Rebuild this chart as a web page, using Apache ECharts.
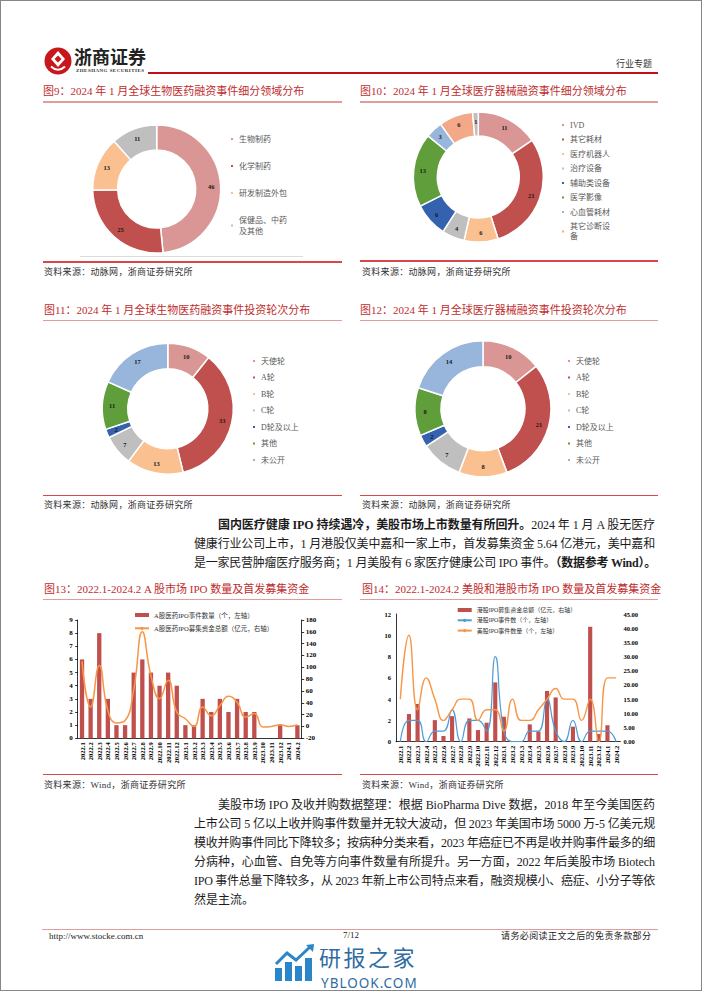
<!DOCTYPE html>
<html><head><meta charset="utf-8">
<script src="https://cdn.jsdelivr.net/npm/echarts@6/dist/echarts.min.js"></script>
<style>
html,body{margin:0;padding:0;background:#fff;}
#page{position:relative;width:702px;height:991px;overflow:hidden;background:#fff;font-family:"Liberation Serif","Noto Sans CJK SC",serif;}
#frame{position:absolute;left:0;top:0;width:702px;height:991px;box-sizing:border-box;border:1px solid #868686;pointer-events:none;z-index:20;}
.abs{position:absolute;white-space:nowrap;}
.title{font-size:11px;color:#BE2D2D;height:14px;line-height:14px;}
.uline{position:absolute;height:1.5px;background:#E39C9C;}
.rline{position:absolute;height:1.5px;background:#D8484A;}
.src{font-size:9px;color:#333;height:12px;line-height:12px;letter-spacing:0.3px;}
.pl{position:absolute;white-space:nowrap;font-size:12px;color:#1c1c1c;height:19px;line-height:19px;display:inline-block;}
.chart{position:absolute;}
</style></head>
<body>
<div id="page">
<div id="frame"></div>

<!-- header -->
<svg class="abs" style="left:44px;top:47px" width="28" height="28" viewBox="0 0 28 28">
  <circle cx="14" cy="14" r="13.5" fill="#C8161D"/>
  <path d="M14 4 L21 12 L14 20 L7 12 Z" fill="#fff"/>
  <path d="M14 8.5 L17.5 12 L14 15.5 L10.5 12 Z" fill="#C8161D"/>
  <path d="M7 19.5 Q14 26 21 19.5" stroke="#fff" stroke-width="2" fill="none"/>
</svg>
<div class="abs" style="left:74px;top:46px;font-size:18px;font-weight:bold;color:#222;line-height:20px;font-family:'Noto Sans CJK SC';">浙商证券</div>
<div class="abs" style="left:76px;top:68px;font-size:5px;font-weight:bold;color:#333;line-height:6px;letter-spacing:0.45px;">ZHESHANG SECURITIES</div>
<div class="abs" style="left:148px;top:72px;width:510px;height:1.6px;background:#C0101A;"></div>
<div class="abs" style="left:616px;top:58px;font-size:9px;color:#333;line-height:12px;">行业专题</div>

<!-- row 1 titles -->
<div class="abs title" style="left:43px;top:84px;">图9：2024 年 1 月全球生物医药融资事件细分领域分布</div>
<div class="abs title" style="left:360px;top:84px;">图10：2024 年 1 月全球医疗器械融资事件细分领域分布</div>
<div class="uline" style="left:43px;top:101px;width:299px;"></div>
<div class="uline" style="left:360px;top:101px;width:298px;"></div>

<div id="c9" class="chart" style="left:43px;top:104px;width:300px;height:152px;"></div>
<div id="c10" class="chart" style="left:358px;top:104px;width:300px;height:200px;"></div>
<div class="abs" style="left:80px;top:256px;width:223px;height:1px;background:#DCDCDC;"></div>

<div class="rline" style="left:43px;top:261px;width:299px;"></div>
<div class="rline" style="left:360px;top:260px;width:298px;"></div>
<div class="abs src" style="left:44px;top:266px;">资料来源：动脉网，浙商证券研究所</div>
<div class="abs src" style="left:362px;top:266px;">资料来源：动脉网，浙商证券研究所</div>

<!-- row 2 -->
<div class="abs title" style="left:44px;top:303px;">图11：2024 年 1 月全球生物医药融资事件投资轮次分布</div>
<div class="abs title" style="left:360px;top:303px;">图12：2024 年 1 月全球医疗器械融资事件投资轮次分布</div>
<div class="uline" style="left:43px;top:319.5px;width:299px;"></div>
<div class="uline" style="left:360px;top:319.5px;width:298px;"></div>

<div id="c11" class="chart" style="left:43px;top:325px;width:300px;height:165px;"></div>
<div id="c12" class="chart" style="left:358px;top:325px;width:300px;height:165px;"></div>

<div class="rline" style="left:43px;top:494.5px;width:299px;"></div>
<div class="rline" style="left:360px;top:494.5px;width:298px;"></div>
<div class="abs src" style="left:44px;top:499px;">资料来源：动脉网，浙商证券研究所</div>
<div class="abs src" style="left:362px;top:499px;">资料来源：动脉网，浙商证券研究所</div>

<!-- paragraph 1 -->
<div class="pl jl" data-l="218" data-r="655" style="left:218px;top:516px;"><b>国内医疗健康 IPO 持续遇冷，美股市场上市数量有所回升。</b>2024 年 1 月 A 股无医疗</div>
<div class="pl jl" data-l="194" data-r="655" style="left:194px;top:535px;">健康行业公司上市，1 月港股仅美中嘉和一家上市，首发募集资金 5.64 亿港元，美中嘉和</div>
<div class="pl jl" data-l="194" data-r="656" style="left:194px;top:554px;">是一家民营肿瘤医疗服务商；1 月美股有 6 家医疗健康公司 IPO 事件。<b>（数据参考 Wind）。</b></div>

<!-- row 3 -->
<div class="abs title" style="left:44px;top:582px;">图13：2022.1-2024.2 A 股市场 IPO 数量及首发募集资金</div>
<div class="abs title" style="left:362px;top:582px;">图14：2022.1-2024.2 美股和港股市场 IPO 数量及首发募集资金</div>
<div class="uline" style="left:43px;top:598.5px;width:299px;"></div>
<div class="uline" style="left:360px;top:598.5px;width:298px;"></div>

<div id="c13" class="chart" style="left:43px;top:601px;width:300px;height:172px;"></div>
<div id="c14" class="chart" style="left:358px;top:601px;width:300px;height:172px;"></div>

<div class="rline" style="left:43px;top:773.5px;width:299px;"></div>
<div class="rline" style="left:360px;top:773.5px;width:298px;"></div>
<div class="abs src" style="left:44px;top:779px;">资料来源：Wind，浙商证券研究所</div>
<div class="abs src" style="left:362px;top:779px;">资料来源：Wind，浙商证券研究所</div>

<!-- paragraph 2 -->
<div class="pl jl" data-l="218" data-r="655" style="left:218px;top:795.5px;">美股市场 IPO 及收并购数据整理：根据 BioPharma Dive 数据，2018 年至今美国医药</div>
<div class="pl jl" data-l="194" data-r="655" style="left:194px;top:814.5px;">上市公司 5 亿以上收并购事件数量并无较大波动，但 2023 年美国市场 5000 万-5 亿美元规</div>
<div class="pl jl" data-l="194" data-r="655" style="left:194px;top:833.5px;">模收并购事件同比下降较多；按病种分类来看，2023 年癌症已不再是收并购事件最多的细</div>
<div class="pl jl" data-l="194" data-r="655" style="left:194px;top:852.5px;">分病种，心血管、自免等方向事件数量有所提升。另一方面，2022 年后美股市场 Biotech</div>
<div class="pl jl" data-l="194" data-r="655" style="left:194px;top:871.5px;">IPO 事件总量下降较多，从 2023 年新上市公司特点来看，融资规模小、癌症、小分子等依</div>
<div class="pl" style="left:194px;top:890.5px;">然是主流。</div>

<!-- footer -->
<div class="abs" style="left:42px;top:929px;width:616px;height:1px;background:#E39C9C;"></div>
<div class="abs" style="left:49px;top:931px;font-size:9px;color:#222;line-height:10px;">http://www.stocke.com.cn</div>
<div class="abs" style="left:343px;top:929.5px;font-size:9px;color:#222;line-height:10px;">7/12</div>
<div class="abs" style="left:501px;top:931px;font-size:9px;color:#222;line-height:10px;letter-spacing:0.4px;">请务必阅读正文之后的免责条款部分</div>

<!-- watermark -->
<svg class="abs" style="left:274px;top:944px" width="42" height="38" viewBox="0 0 42 38">
  <rect x="1" y="24" width="7" height="13" fill="#2A86C8"/>
  <rect x="11" y="18" width="7" height="19" fill="#2A86C8"/>
  <rect x="21" y="22" width="7" height="15" fill="#2A86C8"/>
  <rect x="31" y="14" width="7" height="23" fill="#2A86C8"/>
  <polyline points="2,20 13,9 22,16 36,3" fill="none" stroke="#2A86C8" stroke-width="3"/>
  <polygon points="32,1 40,0 39,8" fill="#2A86C8"/>
</svg>
<div class="abs" style="left:319px;top:945px;color:#2F6CA3;white-space:normal;">
  <div style="font-size:22px;line-height:22px;font-family:'Noto Sans CJK SC';letter-spacing:2.5px;white-space:nowrap;">研报之家<br><span style="display:inline-block;margin-top:3px;font-size:13.5px;line-height:12px;font-family:'Noto Sans';letter-spacing:1px;padding-left:2px;">YBLOOK.COM</span></div>
</div>
</div>

<script>
// ---------------- data ----------------
const fig9Names = ['生物制药', '化学制药', '研发制造外包', '保健品、中药及其他'];
const fig9Values = [46, 25, 13, 11];

const fig10Names = ['IVD', '其它耗材', '医疗机器人', '治疗设备', '辅助类设备', '医学影像', '心血管耗材', '其它诊断设备', '其他'];
const fig10Values = [11, 21, 6, 4, 6, 13, 3, 6, 1];

const roundNames = ['天使轮', 'A轮', 'B轮', 'C轮', 'D轮及以上', '其他', '未公开'];
const fig11Values = [10, 33, 13, 7, 2, 11, 17];
const fig12Values = [10, 21, 8, 7, 2, 8, 14];

const months = ['2022.1','2022.2','2022.3','2022.4','2022.5','2022.6','2022.7','2022.8','2022.9','2022.10','2022.11','2022.12',
  '2023.1','2023.2','2023.3','2023.4','2023.5','2023.6','2023.7','2023.8','2023.9','2023.10','2023.11','2023.12','2024.1','2024.2'];

const aShareIpoCount = [6, 3, 8, 3, 1, 1, 5, 6, 5, 4, 5, 4, 1, 1, 3, 2, 3, 2, 3, 2, 2, 0, 0, 1, 0, 1];
const aShareIpoFunds = [110, 33, 103, 27, 6, 10, 62, 160, 86, 47, 78, 24, 13, 0, 33, 18, 35, 51, 41, 16, 22, -1, 0, 3, 0, 3];

const hkIpoFunds = [0, 9.75, 13.3, 0, 7.6, 2.0, 9.0, 0, 8.2, 4.1, 6.7, 20.9, 8.8, 0, 0, 6.1, 3.6, 17.9, 15.6, 0, 5.3, 0, 40.5, 2.7, 5.8, 0];
const hkIpoCount = [0, 2, 2, 0, 1, 1, 3, 0, 2, 2, 1, 8, 1, 0, 0, 1, 1, 4, 1, 0, 2, 0, 1, 1, 1, 0];
const usIpoCount = [4, 10, 3, 6, 4, 2, 3, 4, 4, 2, 3, 3, 1, 4, 2, 2, 3, 4, 5, 4, 4, 2, 4, 0, 6, 6];

// ---------------- styles ----------------
const C = {
  pink: '#D99694', red: '#C0504D', peach: '#FAC090', gray: '#BFBFBF',
  navy: '#3462AE', green: '#5F9E3B', lblue: '#98B6DB', salmon: '#F3A888',
  orange: '#F79646', blue: '#4F9BD6'
};
const fig9Colors = [C.pink, C.red, C.peach, C.gray];
const fig10Colors = [C.pink, C.red, C.peach, C.gray, C.navy, C.green, C.lblue, C.salmon, C.gray];
const roundColors = [C.pink, C.red, C.peach, C.gray, C.navy, C.green, C.lblue];
const FONT = "'Liberation Serif','Noto Sans CJK SC',serif";

// justify paragraph lines
document.querySelectorAll('.jl').forEach(el => {
  const target = parseFloat(el.dataset.r) - parseFloat(el.dataset.l);
  el.style.letterSpacing = '0px';
  const w = el.getBoundingClientRect().width;
  const n = el.textContent.length;
  el.style.letterSpacing = ((target - w) / n) + 'px';
});

function donut(id, names, values, colors, cfg) {
  const chart = echarts.init(document.getElementById(id), null, {renderer: 'svg'});
  chart.setOption({
    animation: false,
    legend: {
      orient: 'vertical', left: cfg.legLeft, top: cfg.legTop, itemGap: cfg.gap, padding: 0,
      itemWidth: 4, itemHeight: 4, icon: 'rect', selectedMode: false,
      data: names.slice(0, cfg.legN),
      textStyle: {fontSize: 8, color: '#595959', fontFamily: FONT, lineHeight: cfg.lh,
        width: cfg.tw, overflow: 'break'}
    },
    series: [{
      type: 'pie', center: cfg.center, radius: cfg.radius, startAngle: 90, clockwise: true,
      avoidLabelOverlap: false, silent: true,
      label: {show: true, position: 'inside', formatter: '{c}', fontSize: 6.5, fontWeight: 'bold',
        color: '#1a1a1a', fontFamily: FONT},
      labelLine: {show: false},
      itemStyle: {borderColor: '#fff', borderWidth: 1.5},
      data: names.map((n, i) => ({name: n, value: values[i], itemStyle: {color: colors[i]}}))
    }]
  });
}

donut('c9', fig9Names, fig9Values, fig9Colors,
  {center: [113.7, 85], radius: [39, 64], legLeft: 186, legTop: 29.5, gap: 16, lh: 11, tw: 50, legN: 4});
donut('c10', fig10Names, fig10Values, fig10Colors,
  {center: [120.3, 73], radius: [41, 65], legLeft: 202, legTop: 16, gap: 4.5, lh: 10, tw: 42, legN: 8});
donut('c11', roundNames, fig11Values, roundColors,
  {center: [124.8, 83.7], radius: [40, 65.5], legLeft: 208, legTop: 31, gap: 6.5, lh: 10, tw: 80, legN: 7});
donut('c12', roundNames, fig12Values, roundColors,
  {center: [125, 83.7], radius: [42, 68], legLeft: 208, legTop: 31, gap: 6.5, lh: 10, tw: 80, legN: 7});

const axisLbl = {fontSize: 7, fontWeight: 'bold', color: '#000', fontFamily: FONT};
const blackLine = {lineStyle: {color: '#000', width: 0.8}};

// Fig 13
const c13 = echarts.init(document.getElementById('c13'), null, {renderer: 'svg'});
c13.setOption({
  animation: false,
  grid: {left: 34.7, top: 19, width: 224, height: 118.3},
  legend: {
    orient: 'vertical', left: 91, top: 10, itemGap: 5.3, itemWidth: 14, itemHeight: 4, selectedMode: false, padding: 0,
    textStyle: {fontSize: 6.5, color: '#333', fontFamily: FONT, lineHeight: 8},
    data: [{name: 'A股医药IPO事件数量（个，左轴）', icon: 'rect'}, {name: 'A股医药IPO募集资金总额（亿元，右轴）'}]
  },
  xAxis: {
    type: 'category', data: months, axisLine: blackLine, axisTick: {show: false},
    axisLabel: Object.assign({rotate: 90, interval: 0, margin: 4}, axisLbl, {fontSize: 6.5})
  },
  yAxis: [
    {type: 'value', min: 0, max: 9, interval: 1, splitLine: {show: false},
      axisLine: Object.assign({show: true}, blackLine), axisTick: {show: true, length: 2.5, lineStyle: {color: '#000', width: 0.8}},
      axisLabel: Object.assign({margin: 5}, axisLbl)},
    {type: 'value', min: -20, max: 180, interval: 20, position: 'right', splitLine: {show: false},
      axisLine: Object.assign({show: true}, blackLine), axisTick: {show: true, length: 2.5, lineStyle: {color: '#000', width: 0.8}},
      axisLabel: Object.assign({margin: 4}, axisLbl)}
  ],
  series: [
    {name: 'A股医药IPO事件数量（个，左轴）', type: 'bar', data: aShareIpoCount, barWidth: '50%',
      itemStyle: {color: C.red}, silent: true},
    {name: 'A股医药IPO募集资金总额（亿元，右轴）', type: 'line', yAxisIndex: 1, data: aShareIpoFunds,
      smooth: true, symbol: 'none', lineStyle: {color: C.orange, width: 1.5}, itemStyle: {color: C.orange}, silent: true}
  ]
});

// Fig 14
const c14 = echarts.init(document.getElementById('c14'), null, {renderer: 'svg'});
c14.setOption({
  animation: false,
  grid: {left: 38, top: 13, width: 224.4, height: 127.7},
  legend: {
    orient: 'vertical', left: 98.7, top: 5.5, itemGap: 3.3, itemWidth: 14, itemHeight: 4, selectedMode: false, padding: 0,
    textStyle: {fontSize: 6, color: '#333', fontFamily: FONT, lineHeight: 7},
    data: [{name: '港股IPO募集资金总额（亿元，右轴）', icon: 'rect'}, {name: '港股IPO事件数（个，左轴）'}, {name: '美股IPO事件数量（个，左轴）'}]
  },
  xAxis: {
    type: 'category', data: months, axisLine: blackLine, axisTick: {show: false},
    axisLabel: Object.assign({rotate: 90, interval: 0, margin: 4}, axisLbl, {fontSize: 6.5})
  },
  yAxis: [
    {type: 'value', min: 0, max: 12, interval: 2, splitLine: {show: false},
      axisLine: Object.assign({show: true}, blackLine), axisTick: {show: false},
      axisLabel: Object.assign({margin: 5}, axisLbl, {fontSize: 6.5})},
    {type: 'value', min: 0, max: 45, interval: 5, position: 'right', splitLine: {show: false},
      axisLine: {show: false}, axisTick: {show: false},
      axisLabel: Object.assign({margin: 3, formatter: v => v.toFixed(2)}, axisLbl, {fontSize: 6.5})}
  ],
  series: [
    {name: '港股IPO募集资金总额（亿元，右轴）', type: 'bar', yAxisIndex: 1, data: hkIpoFunds, barWidth: '48%',
      itemStyle: {color: C.red}, silent: true},
    {name: '港股IPO事件数（个，左轴）', type: 'line', data: hkIpoCount, smooth: true, symbol: 'none',
      lineStyle: {color: C.blue, width: 1.2}, itemStyle: {color: C.blue}, silent: true},
    {name: '美股IPO事件数量（个，左轴）', type: 'line', data: usIpoCount, smooth: true, symbol: 'none',
      lineStyle: {color: C.orange, width: 1.4}, itemStyle: {color: C.orange}, silent: true}
  ]
});
</script>
</body></html>
